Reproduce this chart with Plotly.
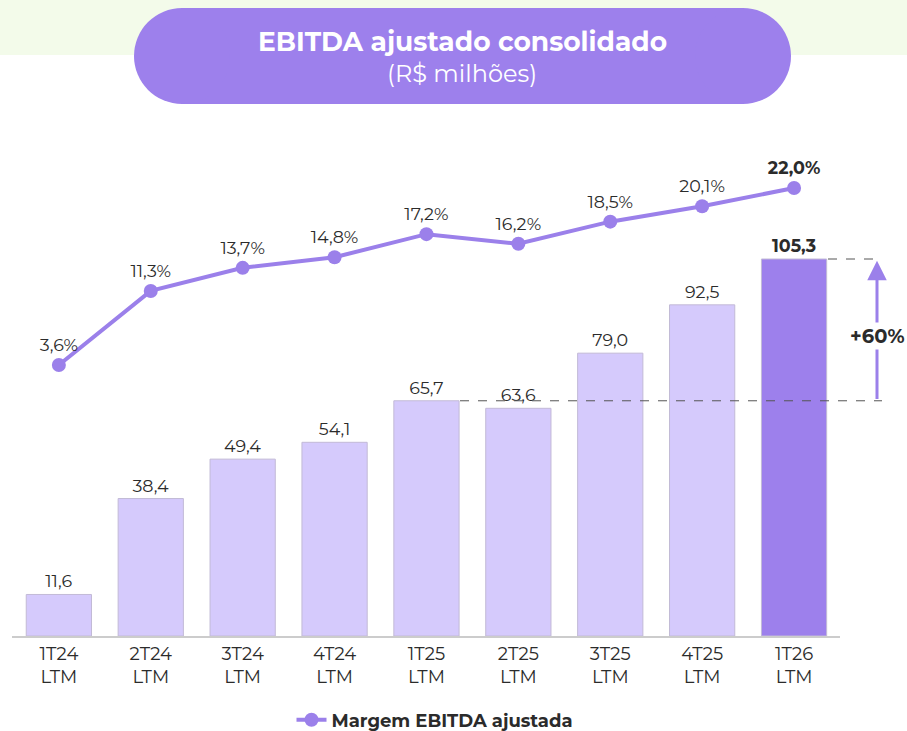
import plotly.graph_objects as go

categories = ["1T24", "2T24", "3T24", "4T24", "1T25", "2T25", "3T25", "4T25", "1T26"]
tick_labels = [c + "<br>LTM" for c in categories]
ebitda = [11.6, 38.4, 49.4, 54.1, 65.7, 63.6, 79.0, 92.5, 105.3]
margin_pct = [3.6, 11.3, 13.7, 14.8, 17.2, 16.2, 18.5, 20.1, 22.0]

W, H = 907, 760
L, R, T, B = 12, 840, 150, 636   # plot area pixels

def px(X):
    return (X - L) / (R - L)

def py(Y):
    return (B - Y) / (B - T)

def fmt(v, suffix=""):
    return f"{v:.1f}".replace(".", ",") + suffix

FONT = "Montserrat, 'Open Sans', sans-serif"
LIGHT = "#d5cafc"
DARK = "#9d80ec"
LINEC = "#9b80ea"
TXT = "#2b2b2b"

bar_colors = [LIGHT] * (len(categories) - 1) + [DARK]
bar_text = [fmt(v) for v in ebitda[:-1]] + [f"<b>{fmt(ebitda[-1])}</b>"]
line_text = [fmt(v, "%") for v in margin_pct[:-1]] + [f"<b>{fmt(margin_pct[-1], '%')}</b>"]

fig = go.Figure()
fig.add_trace(go.Bar(
    x=categories, y=ebitda, marker=dict(color=bar_colors, line=dict(color="#c2bad6", width=1)),
    width=0.71, text=bar_text, textposition="outside", cliponaxis=False,
    textfont=dict(size=17.5, color=TXT, family=FONT), showlegend=False, hoverinfo="skip",
))
fig.add_trace(go.Scatter(
    x=categories, y=margin_pct, yaxis="y2", mode="lines+markers+text",
    name="<b>Margem EBITDA ajustada</b>",
    line=dict(color=LINEC, width=4), marker=dict(color=LINEC, size=14),
    text=line_text, textposition="top center", cliponaxis=False,
    textfont=dict(size=17.5, color=TXT, family=FONT),
))

ppu = 377 / 105.3
y1_top = (B - T) / ppu
ppp = 177 / 18.4
y2_bot = 3.6 - (B - 365) / ppp
y2_top = y2_bot + (B - T) / ppp

shapes = [
    dict(type="rect", xref="paper", yref="paper", x0=px(-5), x1=px(W + 5), y0=py(55), y1=py(-5),
         fillcolor="#f3fbea", line=dict(width=0), layer="below"),
    dict(type="rect", xref="paper", yref="paper", x0=px(182), x1=px(743), y0=py(104), y1=py(8),
         fillcolor=DARK, line=dict(width=0)),
    dict(type="circle", xref="paper", yref="paper", x0=px(134), x1=px(230), y0=py(104), y1=py(8),
         fillcolor=DARK, line=dict(width=0)),
    dict(type="circle", xref="paper", yref="paper", x0=px(695), x1=px(791), y0=py(104), y1=py(8),
         fillcolor=DARK, line=dict(width=0)),
    dict(type="line", xref="paper", yref="y", x0=px(460), x1=px(882), y0=ebitda[4], y1=ebitda[4],
         line=dict(color="#555555", width=1, dash="dash")),
    dict(type="line", xref="paper", yref="y", x0=px(828), x1=px(882), y0=ebitda[-1], y1=ebitda[-1],
         line=dict(color="#555555", width=1, dash="dash")),
]

growth = round((ebitda[-1] / ebitda[4] - 1) * 100)

annotations = [
    dict(xref="paper", yref="paper", x=px(462), y=py(42), xanchor="center", yanchor="middle",
         text="<b>EBITDA ajustado consolidado</b>",
         showarrow=False, font=dict(size=26.5, color="white", family=FONT)),
    dict(xref="paper", yref="paper", x=px(462), y=py(73), xanchor="center", yanchor="middle",
         text="(R$ milhões)",
         showarrow=False, font=dict(size=24, color="white", family=FONT)),
    dict(xref="paper", yref="y", x=px(877), y=ebitda[-1] - 0.5, ax=0, ay=(ebitda[-1] - ebitda[4]) * ppu - 2,
         text="", showarrow=True, arrowhead=2, arrowsize=1.3, arrowwidth=3, arrowcolor=LINEC),
    dict(xref="paper", yref="paper", x=px(877), y=py(336), xanchor="center", yanchor="middle",
         text=f"<b>+{growth}%</b>",
         showarrow=False, bgcolor="white", font=dict(size=19.5, color=TXT, family=FONT)),
]

fig.update_layout(
    width=W, height=H,
    margin=dict(l=L, r=W - R, t=T, b=H - B),
    paper_bgcolor="white", plot_bgcolor="white",
    font=dict(family=FONT, color=TXT),
    xaxis=dict(tickmode="array", tickvals=categories, ticktext=tick_labels, range=[-0.51, 8.5],
               showline=True, linecolor="#cccccc", linewidth=2, showgrid=False, ticks="",
               tickfont=dict(size=18, color=TXT, family=FONT), fixedrange=True),
    yaxis=dict(range=[0, y1_top], visible=False, showgrid=False, fixedrange=True),
    yaxis2=dict(range=[y2_bot, y2_top], overlaying="y", visible=False, showgrid=False, fixedrange=True),
    legend=dict(orientation="h", x=px(435), xanchor="center", y=py(720), yanchor="middle",
                font=dict(size=18, color=TXT, family=FONT)),
    shapes=shapes, annotations=annotations,
)

fig.write_html("out.html", config={"displayModeBar": False},
               post_script="document.body.style.margin='0';document.body.style.overflow='hidden';")
